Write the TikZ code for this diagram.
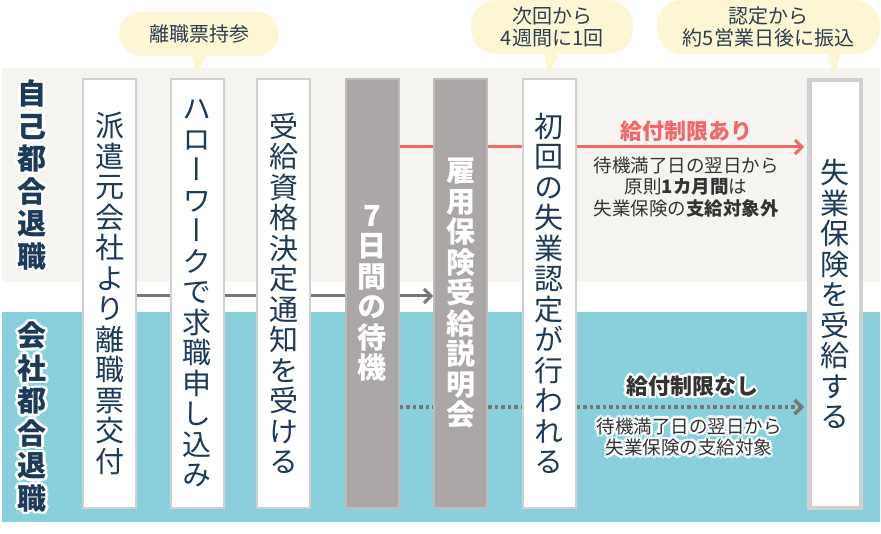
\documentclass[tikz,border=0pt]{standalone}
\usepackage{fontspec}
\setmainfont{Noto Sans CJK JP}
\newfontfamily\vjp[RawFeature=+vert]{Noto Sans CJK JP}
\usetikzlibrary{arrows.meta,calc}
\definecolor{navy}{RGB}{30,58,90}
\definecolor{bandtop}{RGB}{245,244,240}
\definecolor{bandblue}{RGB}{137,207,220}
\definecolor{colborder}{RGB}{208,208,208}
\definecolor{greyfill}{RGB}{171,167,166}
\definecolor{greyborder}{RGB}{190,187,186}
\definecolor{arrowgrey}{RGB}{118,118,118}
\definecolor{redc}{RGB}{242,104,104}
\definecolor{callfill}{RGB}{253,246,212}
\definecolor{calltext}{RGB}{44,62,80}
\definecolor{darktext}{RGB}{51,51,51}
\newcommand\halonode[4]{%
  \foreach \ang in {0,45,...,315}{\node[#1,text=white] at ($(#3)+(\ang:2.6pt)$) {#4};}
  \node[#1] (#2) at (#3) {#4};}
\begin{document}
\begin{tikzpicture}[x=1pt,y=-1pt,
  col/.style={draw=colborder,line width=2pt,fill=white,minimum width=53pt,minimum height=429pt,inner sep=0pt,text=navy,align=center,font={\vjp\fontsize{29}{30.5}\selectfont}},
  gcol/.style={col,draw=greyborder,fill=greyfill,text=white,font={\vjp\bfseries\fontsize{29}{30.5}\selectfont}},
  sidelabel/.style={text=navy,align=center,inner sep=0pt,font={\vjp\bfseries\fontsize{29}{32.5}\selectfont}},
  callout/.style={fill=callfill,text=calltext,align=center,inner sep=0pt,font={\fontsize{20}{22}\selectfont}},
  greyline/.style={draw=arrowgrey,line width=3pt},
  redline/.style={draw=redc,line width=3pt},
  dotline/.style={draw=arrowgrey,line width=3.5pt,dash pattern=on 3.5pt off 3pt},
  tip/.style={-{Straight Barb[length=7pt,width=14pt]}},
  smalltext/.style={text=darktext,align=center,inner sep=0pt,font={\fontsize{18.5}{21.5}\selectfont}},
  bigred/.style={text=redc,inner sep=0pt,font={\bfseries\fontsize{22}{24}\selectfont}},
  bigdark/.style={text=darktext,inner sep=0pt,font={\bfseries\fontsize{22}{24}\selectfont}}
]
\useasboundingbox (0,0) rectangle (881,534);
% bands
\fill[bandtop] (2,68) rectangle (880,282);
\fill[bandblue] (2,312) rectangle (880,522);

% side labels
\halonode{sidelabel}{s1}{32,175}{自\\己\\都\\合\\退\\職}
\halonode{sidelabel}{s2}{32,417}{会\\社\\都\\合\\退\\職}

% columns
\node[col] (c1) at (109.5,293.5) {派\\遣\\元\\会\\社\\よ\\り\\離\\職\\票\\交\\付};
\node[col] (c2) at (197,293.5) {ハ\\ロ\\ー\\ワ\\ー\\ク\\で\\求\\職\\申\\し\\込\\み};
\node[col] (c3) at (283.5,293.5) {受\\給\\資\\格\\決\\定\\通\\知\\を\\受\\け\\る};
\node[gcol] (c4) at (372,293.5) {7\\日\\間\\の\\待\\機};
\node[gcol] (c5) at (460.5,293.5) {雇\\用\\保\\険\\受\\給\\説\\明\\会};
\node[col] (c6) at (549,293.5) {初\\回\\の\\失\\業\\認\\定\\が\\行\\わ\\れ\\る};
\node[col,line width=4.5pt,draw=colborder,minimum width=51.5pt,minimum height=427.5pt] (c7) at (835,294) {失\\業\\保\\険\\を\\受\\給\\す\\る};

% connector levels
\coordinate (gy) at (0,296);
\coordinate (ry) at (0,147);
\coordinate (dy) at (0,407);

% grey solid
\draw[greyline] (c1.east |- gy) -- (c2.west |- gy);
\draw[greyline] (c2.east |- gy) -- (c3.west |- gy);
\draw[greyline] (c3.east |- gy) -- (c4.west |- gy);
\draw[greyline,tip] (c4.east |- gy) -- (c5.west |- gy);

% red
\draw[redline] (c4.east |- ry) -- (c5.west |- ry);
\draw[redline] (c5.east |- ry) -- (c6.west |- ry);
\draw[redline,tip] (c6.east |- ry) -- ([xshift=-3pt]c7.west |- ry);

% dotted
\draw[dotline] (c4.east |- dy) -- (c5.west |- dy);
\draw[dotline] (c5.east |- dy) -- (c6.west |- dy);
\draw[dotline,tip] (c6.east |- dy) -- ([xshift=-3pt]c7.west |- dy);

% labels on the arrows
\node[bigred] (r1) at (686,131) {給付制限あり};
\node[smalltext] (r2) at (686,187) {待機満了日の翌日から\\原則\textbf{1カ月間}は\\失業保険の\textbf{支給対象外}};
\halonode{bigdark}{n1}{692,386}{給付制限なし}
\halonode{smalltext}{n2}{689,437}{待機満了日の翌日から\\失業保険の支給対象}

% callouts
\node[callout,minimum width=160pt,minimum height=44pt,rounded corners=22pt] (b1) at (199,34) {離職票持参};
\fill[callfill] ($(b1.south)+(-8,-1)$) -- ([yshift=2pt]c2.north) -- ($(b1.south)+(8,-1)$) -- cycle;
\node[callout,minimum width=162pt,minimum height=54pt,rounded corners=25pt] (b2) at (552,27) {次回から\\4週間に1回};
\fill[callfill] ($(b2.south)+(-8,-1)$) -- ([yshift=2pt]c6.north) -- ($(b2.south)+(7,-1)$) -- cycle;
\node[callout,minimum width=223pt,minimum height=54pt,rounded corners=25pt] (b3) at (768.5,27) {認定から\\約5営業日後に振込};
\fill[callfill] ($(b3.south)+(58,-1)$) -- ([yshift=2pt]c7.north) -- ($(b3.south)+(72,-1)$) -- cycle;
\end{tikzpicture}
\end{document}
